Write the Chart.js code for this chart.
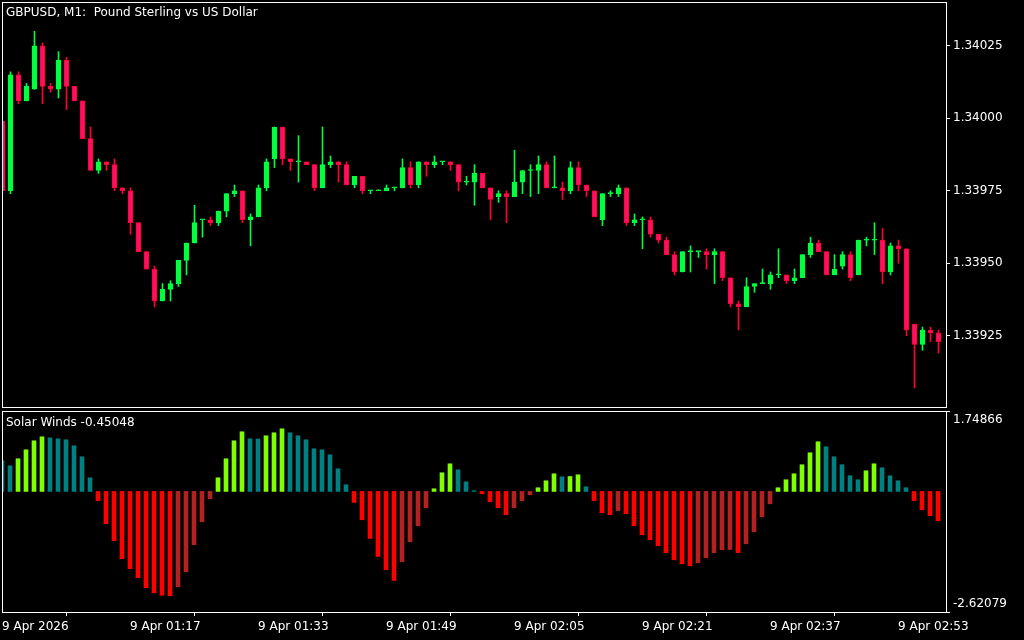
<!DOCTYPE html>
<html>
<head>
<meta charset="utf-8">
<script src="https://cdn.jsdelivr.net/npm/chart.js@4.4.1/dist/chart.umd.min.js"></script>
<style>
html, body { margin: 0; padding: 0; background: #000; }
#wrap { position: relative; width: 1024px; height: 640px; overflow: hidden; background: #000; }
#price { position: absolute; left: 0; top: 0; }
#wind { position: absolute; left: 0; top: 408px; }
</style>
</head>
<body>
<div id="wrap">
  <canvas id="price" width="1024" height="408"></canvas>
  <canvas id="wind" width="1024" height="232"></canvas>
</div>
<script>
// GBPUSD M1 bars, 9 Apr 2026
const times = [
  '01:01','01:02','01:03','01:04','01:05','01:06','01:07','01:08','01:09','01:10',
  '01:11','01:12','01:13','01:14','01:15','01:16','01:17','01:18','01:19','01:20',
  '01:21','01:22','01:23','01:24','01:25','01:26','01:27','01:28','01:29','01:30',
  '01:31','01:32','01:33','01:34','01:35','01:36','01:37','01:38','01:39','01:40',
  '01:41','01:42','01:43','01:44','01:45','01:46','01:47','01:48','01:49','01:50',
  '01:51','01:52','01:53','01:54','01:55','01:56','01:57','01:58','01:59','02:00',
  '02:01','02:02','02:03','02:04','02:05','02:06','02:07','02:08','02:09','02:10',
  '02:11','02:12','02:13','02:14','02:15','02:16','02:17','02:18','02:19','02:20',
  '02:21','02:22','02:23','02:24','02:25','02:26','02:27','02:28','02:29','02:30',
  '02:31','02:32','02:33','02:34','02:35','02:36','02:37','02:38','02:39','02:40',
  '02:41','02:42','02:43','02:44','02:45','02:46','02:47','02:48','02:49','02:50',
  '02:51','02:52','02:53','02:54','02:55','02:56','02:57','02:58'
];

const openP = [
  1.33999,1.33975,1.34015,1.34006,1.34010,1.34025,1.34011,1.34010,1.34020,1.34011,
  1.34006,1.33993,1.33982,1.33985,1.33984,1.33976,1.33975,1.33964,1.33954,1.33948,
  1.33937,1.33941,1.33943,1.33951,1.33957,1.33965,1.33965,1.33964,1.33968,1.33974,
  1.33975,1.33965,1.33966,1.33976,1.33986,1.33997,1.33986,1.33985,1.33985,1.33984,
  1.33976,1.33984,1.33985,1.33984,1.33977,1.33980,1.33975,1.33975,1.33975,1.33976,
  1.33976,1.33983,1.33977,1.33985,1.33984,1.33985,1.33985,1.33984,1.33978,1.33978,
  1.33981,1.33976,1.33973,1.33974,1.33973,1.33978,1.33982,1.33982,1.33984,1.33976,
  1.33976,1.33975,1.33983,1.33977,1.33975,1.33965,1.33974,1.33974,1.33976,1.33964,
  1.33965,1.33965,1.33960,1.33958,1.33953,1.33947,1.33954,1.33954,1.33954,1.33953,
  1.33954,1.33945,1.33936,1.33935,1.33942,1.33943,1.33943,1.33946,1.33946,1.33944,
  1.33945,1.33953,1.33957,1.33954,1.33946,1.33949,1.33953,1.33946,1.33958,1.33958,
  1.33958,1.33947,1.33956,1.33955,1.33929,1.33922,1.33927,1.33926
];
const highP = [
  1.33999,1.34016,1.34016,1.34012,1.34030,1.34026,1.34012,1.34023,1.34021,1.34011,
  1.34006,1.33997,1.33986,1.33985,1.33986,1.33976,1.33976,1.33964,1.33954,1.33949,
  1.33943,1.33944,1.33951,1.33957,1.33970,1.33965,1.33966,1.33968,1.33974,1.33977,
  1.33975,1.33967,1.33977,1.33986,1.33997,1.33997,1.33986,1.33994,1.33985,1.33984,
  1.33997,1.33987,1.33985,1.33985,1.33980,1.33980,1.33975,1.33975,1.33977,1.33976,
  1.33986,1.33985,1.33985,1.33985,1.33987,1.33985,1.33985,1.33984,1.33980,1.33984,
  1.33981,1.33976,1.33975,1.33975,1.33989,1.33982,1.33984,1.33987,1.33985,1.33987,
  1.33978,1.33985,1.33985,1.33977,1.33975,1.33974,1.33975,1.33977,1.33976,1.33967,
  1.33966,1.33966,1.33960,1.33959,1.33954,1.33954,1.33956,1.33954,1.33955,1.33955,
  1.33954,1.33945,1.33937,1.33945,1.33943,1.33948,1.33947,1.33955,1.33946,1.33948,
  1.33953,1.33959,1.33958,1.33954,1.33953,1.33954,1.33954,1.33958,1.33959,1.33964,
  1.33962,1.33957,1.33958,1.33955,1.33929,1.33928,1.33928,1.33927
];
const lowP = [
  1.33975,1.33974,1.34005,1.34006,1.34010,1.34005,1.34009,1.34007,1.34003,1.34006,
  1.33993,1.33982,1.33981,1.33982,1.33975,1.33974,1.33960,1.33954,1.33948,1.33935,
  1.33937,1.33937,1.33942,1.33946,1.33957,1.33959,1.33963,1.33963,1.33966,1.33973,
  1.33964,1.33956,1.33966,1.33975,1.33983,1.33984,1.33982,1.33978,1.33984,1.33975,
  1.33976,1.33983,1.33978,1.33977,1.33976,1.33974,1.33974,1.33975,1.33975,1.33975,
  1.33976,1.33976,1.33976,1.33980,1.33983,1.33984,1.33982,1.33975,1.33977,1.33970,
  1.33976,1.33965,1.33971,1.33964,1.33973,1.33974,1.33973,1.33974,1.33976,1.33976,
  1.33972,1.33974,1.33975,1.33973,1.33966,1.33963,1.33973,1.33973,1.33963,1.33963,
  1.33955,1.33959,1.33957,1.33953,1.33946,1.33947,1.33947,1.33952,1.33948,1.33943,
  1.33944,1.33935,1.33927,1.33935,1.33940,1.33943,1.33941,1.33945,1.33943,1.33943,
  1.33945,1.33952,1.33954,1.33946,1.33946,1.33948,1.33944,1.33946,1.33956,1.33953,
  1.33943,1.33946,1.33950,1.33925,1.33907,1.33920,1.33923,1.33919
];
const closeP = [
  1.33975,1.34015,1.34006,1.34011,1.34025,1.34011,1.34010,1.34020,1.34011,1.34006,
  1.33993,1.33982,1.33985,1.33984,1.33976,1.33975,1.33964,1.33954,1.33948,1.33937,
  1.33941,1.33943,1.33951,1.33957,1.33964,1.33965,1.33964,1.33968,1.33974,1.33975,
  1.33965,1.33966,1.33976,1.33985,1.33997,1.33986,1.33985,1.33985,1.33984,1.33976,
  1.33984,1.33985,1.33984,1.33977,1.33980,1.33975,1.33975,1.33975,1.33976,1.33976,
  1.33983,1.33977,1.33985,1.33984,1.33985,1.33985,1.33984,1.33978,1.33978,1.33981,
  1.33976,1.33972,1.33974,1.33973,1.33978,1.33982,1.33982,1.33984,1.33976,1.33976,
  1.33975,1.33983,1.33977,1.33975,1.33966,1.33974,1.33974,1.33976,1.33964,1.33965,
  1.33965,1.33960,1.33958,1.33953,1.33947,1.33954,1.33954,1.33954,1.33953,1.33954,
  1.33945,1.33936,1.33935,1.33942,1.33943,1.33943,1.33946,1.33946,1.33944,1.33945,
  1.33953,1.33957,1.33954,1.33946,1.33948,1.33953,1.33945,1.33958,1.33958,1.33958,
  1.33947,1.33956,1.33955,1.33927,1.33922,1.33927,1.33926,1.33923
];

// Solar Winds histogram
const wind = [
   0.667, 0.558, 0.710, 0.906, 1.101, 1.188, 1.166, 1.144, 1.123, 0.992,
   0.753, 0.297,-0.203,-0.703,-1.072,-1.463,-1.681,-1.877,-2.094,-2.203,
  -2.255,-2.268,-2.072,-1.746,-1.159,-0.659,-0.159, 0.297, 0.710, 1.101,
   1.297, 1.144, 1.138, 1.210, 1.275, 1.362, 1.275, 1.210, 1.123, 0.927,
   0.906, 0.797, 0.493, 0.145,-0.239,-0.616,-1.022,-1.413,-1.703,-1.935,
  -1.529,-1.094,-0.746,-0.355, 0.058, 0.406, 0.601, 0.471, 0.210, 0.015,
  -0.051,-0.225,-0.355,-0.507,-0.355,-0.203,-0.072, 0.080, 0.232, 0.384,
   0.319, 0.325, 0.362, 0.101,-0.203,-0.464,-0.507,-0.420,-0.486,-0.746,
  -0.942,-1.051,-1.181,-1.333,-1.486,-1.573,-1.616,-1.551,-1.442,-1.333,
  -1.268,-1.262,-1.333,-1.138,-0.877,-0.551,-0.268, 0.080, 0.254, 0.384,
   0.580, 0.841, 1.080, 0.971, 0.753, 0.580, 0.341, 0.254, 0.449, 0.601,
   0.515, 0.341, 0.232, 0.080,-0.203,-0.399,-0.529,-0.638
];

const priceTicks = [1.33925, 1.33950, 1.33975, 1.34000, 1.34025];
const windTicks = [1.74866, -2.62079];
const tickTimes = ['01:01','01:17','01:33','01:49','02:05','02:21','02:37','02:53'];
const tickTexts = ['9 Apr 2026','9 Apr 01:17','9 Apr 01:33','9 Apr 01:49','9 Apr 02:05','9 Apr 02:21','9 Apr 02:37','9 Apr 02:53'];

const WHITE = '#ffffff';
const FONT = {family: 'DejaVu Sans', size: 12};
const BULL = '#00ff3c', BEAR_FILL = '#ff1060', BEAR_LINE = '#ff0030';

const idx = times.map((t, i) => i);
const up = closeP.map((c, i) => c >= openP[i]);

const windColor = wind.map((v, i) => {
    const rising = i > 0 && v > wind[i - 1];
    if (v >= 0) return rising ? '#7fff00' : '#008080';
    return rising ? '#b22222' : '#ff0000';
});

// no extra room for the edge labels, plot must fill the window
const noPad = (s) => {
    s.paddingTop = 0; s.paddingBottom = 0;
    s.paddingLeft = 0; s.paddingRight = 0;
};

//frame round the plot + window caption
const framePlugin = {
    id: 'frame',
    afterDraw(chart, args, opts) {
        const {ctx, chartArea: a} = chart;
        ctx.save();
        ctx.strokeStyle = WHITE;
        ctx.lineWidth = 1;
        ctx.strokeRect(a.left + 0.5, a.top + 0.5, a.right - a.left, a.bottom - a.top);
        ctx.font = '12px "DejaVu Sans"';
        ctx.fillStyle = WHITE;
        ctx.textBaseline = 'middle';
        ctx.textAlign = 'left';
        ctx.fillText(opts.title, a.left + 4, a.top + opts.titleY);
        if (opts.edgeLabels) {
            const x = a.right + 7;
            ctx.fillText(opts.edgeLabels[0], x, a.top + 9);
            ctx.fillText(opts.edgeLabels[1], x, a.bottom - 8);
        }
        ctx.restore();
    }
};

new Chart('price', {
    type: 'bar',
    data: {
        datasets: [{
            label: 'body',
            data: idx.map(i => ({x: i, y: [openP[i], closeP[i]]})),
            backgroundColor: up.map(u => u ? BULL : BEAR_FILL),
            borderColor: up.map(u => u ? BULL : BEAR_LINE),
            borderWidth: 1,
            borderSkipped: false,
            barThickness: 5,
            minBarLength: 1,
            grouped: false,
            order: 0
        }, {
            label: 'wick',
            data: idx.map(i => ({x: i, y: [lowP[i], highP[i]]})),
            backgroundColor: up.map(u => u ? BULL : BEAR_LINE),
            borderWidth: 0,
            barThickness: 1,
            minBarLength: 1,
            grouped: false,
            order: 1
        }]
    },
    options: {
        responsive: false,
        animation: false,
        layout: {padding: {left: 2, top: 2, right: 0, bottom: 1}},
        plugins: {
            legend: {display: false},
            tooltip: {enabled: false},
            frame: {title: 'GBPUSD, M1:  Pound Sterling vs US Dollar', titleY: 11}
        },
        scales: {
            x: {type: 'linear', min: -0.0625, max: 117.9375, display: false, offset: false},
            y: {
                position: 'right',
                min: 1.3390044,
                max: 1.340401,
                afterFit: (s) => { s.width = 78; noPad(s); },
                afterBuildTicks: (s) => { s.ticks = priceTicks.map(v => ({value: v})); },
                ticks: {color: WHITE, font: FONT, padding: 3, callback: (v) => Number(v).toFixed(5)},
                grid: {drawOnChartArea: false, color: WHITE, tickLength: 4},
                border: {color: WHITE}
            }
        }
    },
    plugins: [framePlugin]
});

new Chart('wind', {
    type: 'bar',
    data: {
        datasets: [{
            label: 'Solar Winds',
            data: idx.map(i => ({x: i, y: wind[i]})),
            backgroundColor: windColor,
            borderWidth: 0,
            barThickness: 4
        }]
    },
    options: {
        responsive: false,
        animation: false,
        layout: {padding: {left: 2, top: 3, right: 0, bottom: 0}},
        plugins: {
            legend: {display: false},
            tooltip: {enabled: false},
            frame: {
                title: 'Solar Winds -0.45048', titleY: 12,
                edgeLabels: windTicks.map(v => v.toFixed(5))
            }
        },
        scales: {
            x: {
                type: 'linear', min: 0, max: 118, offset: false,
                afterFit: (s) => { s.height = 28; noPad(s); },
                afterBuildTicks: (s) => { s.ticks = tickTimes.map(t => ({value: times.indexOf(t)})); },
                ticks: {
                    color: WHITE, font: FONT, align: 'start', maxRotation: 0, autoSkip: false, padding: 4,
                    callback: (v, i) => tickTexts[i]
                },
                grid: {drawOnChartArea: false, color: WHITE, tickLength: 4},
                border: {color: WHITE}
            },
            y: {
                position: 'right',
                min: windTicks[1],
                max: windTicks[0],
                afterFit: (s) => { s.width = 78; noPad(s); },
                afterBuildTicks: (s) => { s.ticks = windTicks.map(v => ({value: v})); },
                ticks: {display: false},
                grid: {drawOnChartArea: false, color: WHITE, tickLength: 4},
                border: {color: WHITE}
            }
        }
    },
    plugins: [framePlugin]
});
</script>
</body>
</html>
